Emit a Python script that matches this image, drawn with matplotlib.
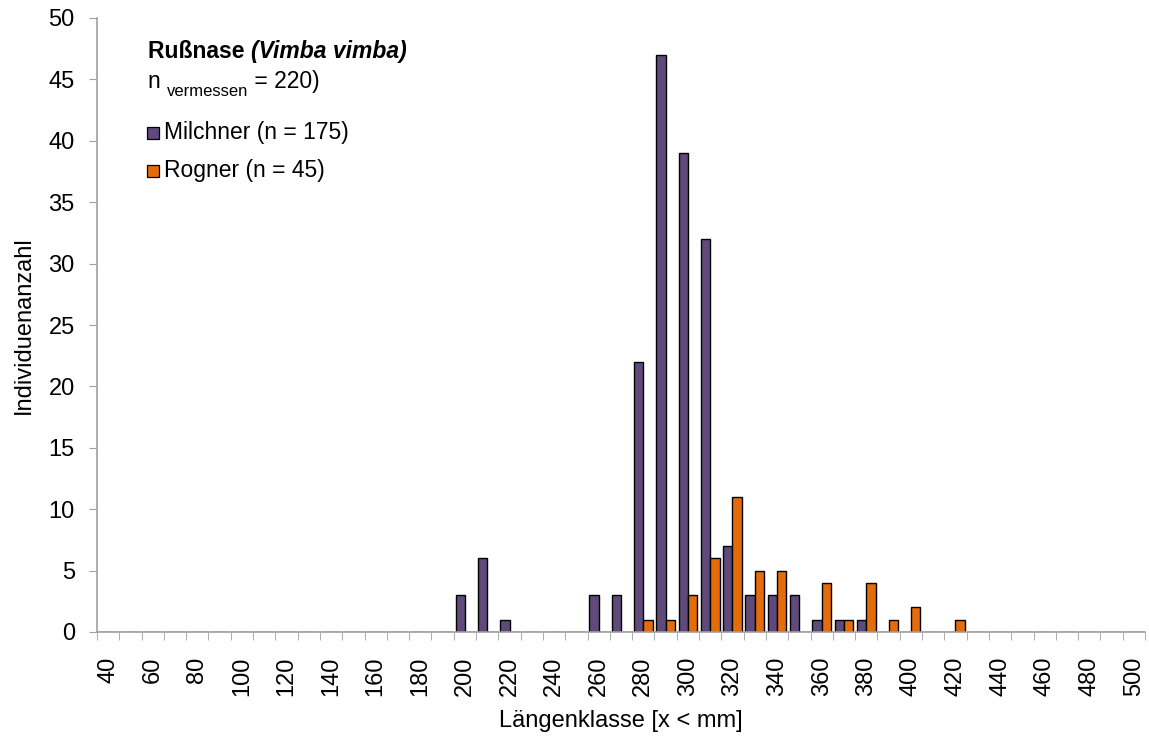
import matplotlib.pyplot as plt
import numpy as np
from matplotlib.patches import Rectangle

plt.rcParams['font.family'] = ['Liberation Sans', 'DejaVu Sans']

# length classes (mm), 40..500 step 10
classes = list(range(40, 510, 10))
milchner = {200: 3, 210: 6, 220: 1, 260: 3, 270: 3, 280: 22, 290: 47, 300: 39,
            310: 32, 320: 7, 330: 3, 340: 3, 350: 3, 360: 1, 370: 1, 380: 1}
rogner = {280: 1, 290: 1, 300: 3, 310: 6, 320: 11, 330: 5, 340: 5, 360: 4,
          370: 1, 380: 4, 390: 1, 400: 2, 420: 1}
tick_labels = [str(c) if c % 20 == 0 else '' for c in classes]

m_vals = [milchner.get(c, 0) for c in classes]
r_vals = [rogner.get(c, 0) for c in classes]

c_m = '#604A7B'
c_r = '#E46C0A'
axis_grey = '#A0A0A0'
fs_ax = 17
fs = 16.5

fig = plt.figure(figsize=(11.49, 7.38), dpi=100)
W, H = 1149, 738
ax = fig.add_axes([97/W, 1 - 632/H, (1145-97)/W, (632-18)/H])

x = np.arange(len(classes))
w = 0.42
ax.bar(x - w/2, m_vals, w, color=c_m, edgecolor='black', linewidth=1.0)
ax.bar(x + w/2, r_vals, w, color=c_r, edgecolor='black', linewidth=1.0)

ax.set_xlim(-0.5, len(classes) - 0.5)
ax.set_ylim(0, 50)
ax.set_yticks(range(0, 55, 5))
ax.tick_params(axis='y', labelsize=fs_ax, length=6, color=axis_grey,
               direction='out', pad=10)

# category labels at centres, tick marks at boundaries
ax.set_xticks(x)
ax.set_xticklabels(tick_labels, rotation=90, fontsize=fs_ax)
ax.tick_params(axis='x', length=0, pad=18)
ax.set_xticks(np.arange(-0.5, len(classes)), minor=True)
ax.tick_params(axis='x', which='minor', length=6, color=axis_grey, direction='out')

for s in ['top', 'right']:
    ax.spines[s].set_visible(False)
for s in ['left', 'bottom']:
    ax.spines[s].set_color(axis_grey)
    ax.spines[s].set_linewidth(1.2)

ax.set_ylabel('Individuenanzahl', fontsize=fs_ax, labelpad=10)
ax.set_xlabel('Längenklasse [x < mm]', fontsize=fs_ax, labelpad=10)

t1 = fig.text(148/W, 1 - 58/H, 'Rußnase ', fontsize=fs, fontweight='bold',
              va='baseline')
ax.annotate('(Vimba vimba)', xy=(1, 0), xycoords=t1, fontsize=fs,
            fontweight='bold', fontstyle='italic', va='bottom')
t2 = fig.text(148/W, 1 - 88/H, 'n ', fontsize=fs, va='baseline')
t3 = ax.annotate('vermessen', xy=(1, 0), xycoords=t2, xytext=(0, -4),
                 textcoords='offset points', fontsize=12, va='bottom')
ax.annotate(' = 220)', xy=(1, 0), xycoords=t3, xytext=(0, 4),
            textcoords='offset points', fontsize=fs, va='bottom')

for yy, col, lab in [(133, c_m, 'Milchner (n = 175)'), (171, c_r, 'Rogner (n = 45)')]:
    fig.patches.append(Rectangle((147/W, 1 - (yy + 6)/H), 12/W, 12/H,
                                 facecolor=col, edgecolor='black', linewidth=0.9,
                                 transform=fig.transFigure, figure=fig))
    fig.text(164/W, 1 - yy/H, lab, fontsize=fs, va='center')

fig.savefig('out.png', dpi=100)
